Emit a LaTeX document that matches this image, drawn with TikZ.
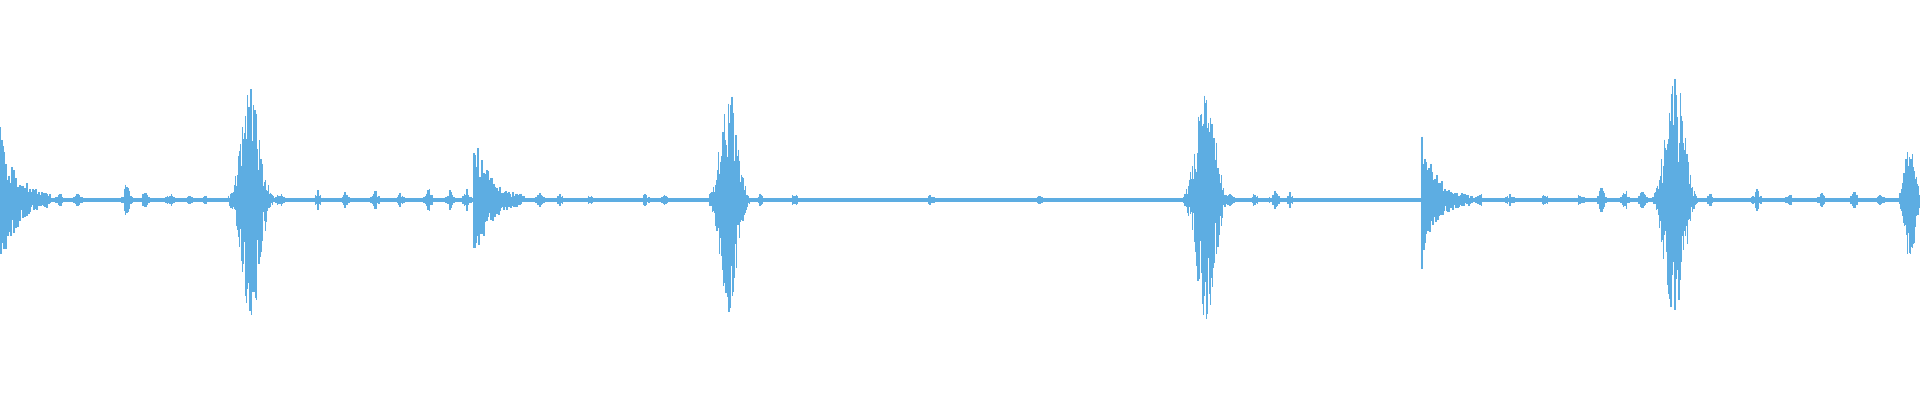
\documentclass[tikz,border=0pt]{standalone}
\usepackage{tikz}
\definecolor{wavblue}{HTML}{5DADE2}
\tikzset{
    % one sample line
    sample/.style={draw=wavblue, line width=0.35pt},
    % flat baseline
    baseline/.style={draw=wavblue, line width=1.4pt}
}

\begin{document}
\begin{tikzpicture}[x=0.01cm, y=-0.01cm]
    \useasboundingbox (0,0) rectangle (1920,400);
    \pgfmathsetseed{7}

    % baseline
    \draw[baseline] (0,200) -- (1920,200);

    % symmetric loud bursts: centre / width / amplitude
    \foreach \c/\w/\a in {251/11/120, 729/10/112, 1206/11/124, 1675/11/132, 1910/6/60}{
        \foreach \i in {-34,...,34}{
            \pgfmathsetmacro\x{\c+\i*0.6*\w/10}
            \pgfmathsetmacro\e{\a*exp(-(\i/19)^2)}
            \pgfmathsetmacro\u{\e*(0.25+0.75*rnd)}
            \pgfmathsetmacro\v{\e*(0.25+0.75*rnd)}
            \draw[sample] (\x,200-\u) -- (\x,200+\v);
        }
    }

    % decaying bursts: onset / decay / amplitude
    \foreach \c/\w/\a in {0/16/70, 474/14/68, 1422/13/70}{
        \foreach \i in {0,...,50}{
            \pgfmathsetmacro\x{\c+\i*1.0}
            \pgfmathsetmacro\e{\a*exp(-\i/\w)+4}
            \pgfmathsetmacro\u{\e*(0.3+0.7*rnd)}
            \pgfmathsetmacro\v{\e*(0.3+0.7*rnd)}
            \draw[sample] (\x,200-\u) -- (\x,200+\v);
        }
    }

    % small noise blips: centre / amplitude
    \foreach \c/\a in {60/6, 78/5, 127/20, 145/10, 170/5, 190/5, 205/4, 280/6, 318/8,
                       345/6, 375/10, 400/6, 428/12, 450/8, 467/10, 540/6, 560/5,
                       590/4, 645/4, 666/4, 760/5, 795/6, 930/4, 1040/3, 1230/4,
                       1255/6, 1275/8, 1290/6, 1480/5, 1510/4, 1545/5, 1580/4,
                       1602/18, 1625/10, 1643/14, 1710/5, 1757/9, 1790/5, 1822/6,
                       1855/8, 1880/5}{
        \foreach \i in {-4,...,4}{
            \pgfmathsetmacro\x{\c+\i*1.3}
            \pgfmathsetmacro\e{\a*exp(-(\i/2.5)^2)+2}
            \pgfmathsetmacro\u{\e*(0.4+0.6*rnd)}
            \draw[sample] (\x,200-\u) -- (\x,200+\u);
        }
    }
\end{tikzpicture}
\end{document}
